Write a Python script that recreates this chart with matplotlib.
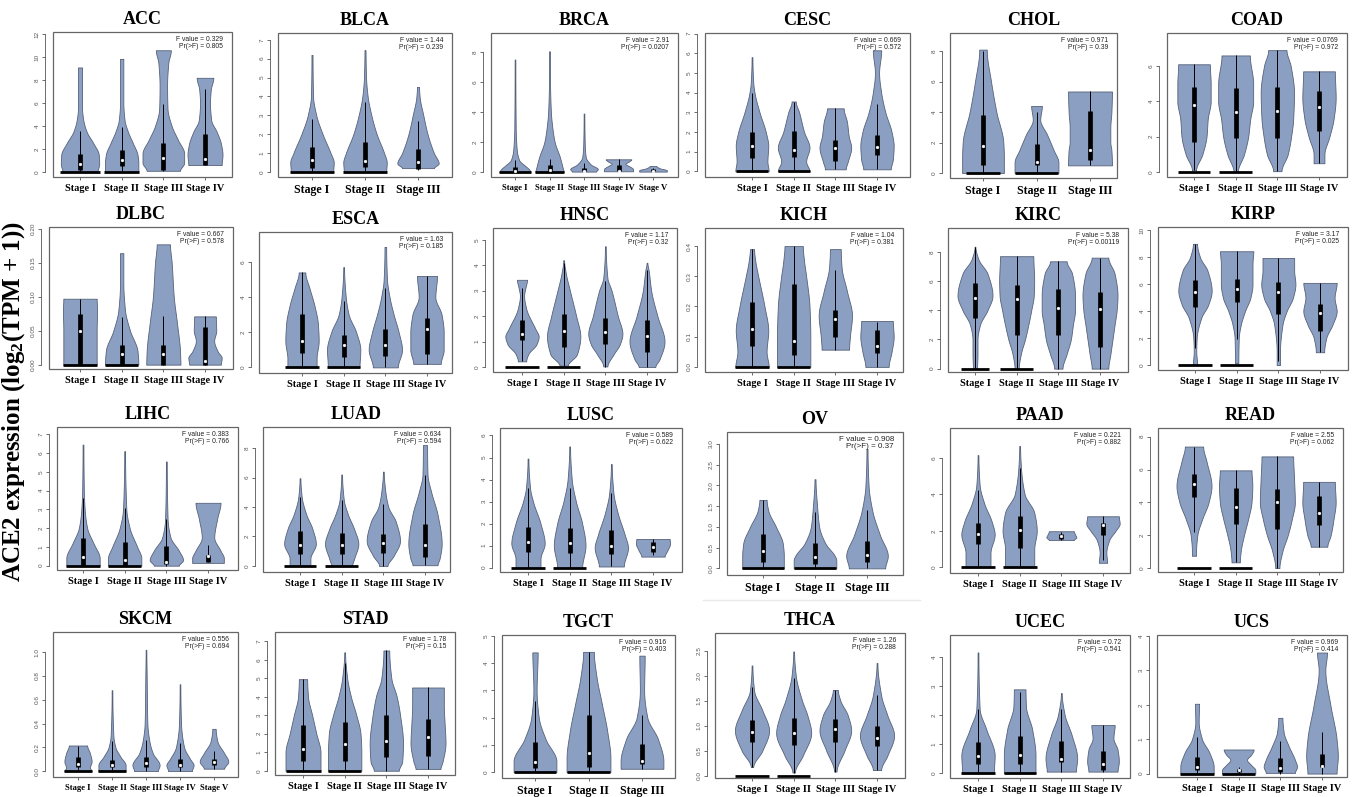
import numpy as np
import matplotlib
matplotlib.use("Agg")
import matplotlib.pyplot as plt
from matplotlib.patches import Rectangle
from matplotlib.lines import Line2D

# ---------------------------------------------------------------- data
STAGES = ["Stage I", "Stage II", "Stage III", "Stage IV", "Stage V"]

CANCERS = ["ACC", "BLCA", "BRCA", "CESC", "CHOL", "COAD",
           "DLBC", "ESCA", "HNSC", "KICH", "KIRC", "KIRP",
           "LIHC", "LUAD", "LUSC", "OV", "PAAD", "READ",
           "SKCM", "STAD", "TGCT", "THCA", "UCEC", "UCS"]

F_VALUES = ["0.329", "1.44", "2.91", "0.669", "0.971", "0.0769",
            "0.667", "1.63", "1.17", "1.04", "5.38", "3.17",
            "0.383", "0.634", "0.589", "0.908", "0.221", "2.55",
            "0.556", "1.78", "0.916", "1.26", "0.72", "0.969"]
P_VALUES = ["0.805", "0.239", "0.0207", "0.572", "0.39", "0.972",
            "0.578", "0.185", "0.32", "0.381", "0.00119", "0.025",
            "0.766", "0.594", "0.622", "0.37", "0.882", "0.062",
            "0.694", "0.15", "0.403", "0.288", "0.541", "0.414"]

# violin outlines: knots [expression, half-width]; boxes: [whisk lo, q1, median, q3, whisk hi]
# zero: half-width of the bar of zero values (0 = none); yt: y tick labels
ACC_SHAPE = [[[0, .42], [.7, .46], [1.5, .45], [2.5, .32], [3.5, .16], [4.5, .08], [5.5, .05], [9.1, .05]],
             [[0, .40], [.8, .40], [1.5, .38], [2.5, .27], [3.5, .15], [4.5, .07], [6, .04], [9.85, .04]],
             [[.1, .40], [.8, .50], [1.6, .50], [2.8, .35], [4, .2], [5.5, .1], [7.5, .09], [9.5, .12], [10.6, .18]],
             [[.6, .40], [1.5, .42], [2.5, .38], [3.5, .28], [4.5, .15], [6, .12], [7.2, .14], [8.2, .2]]]
ACC_BOX = [[0, .2, .7, 1.55, 3.6], [0, .5, 1.0, 1.9, 3.9], [.1, .2, 1.2, 2.5, 5.9], [.6, .6, 1.1, 3.3, 7.2]]
ACC_ZERO = [.48, .42, 0, 0]
ACC_YT = ["0", "2", "4", "6", "8", "10", "12"]

BLCA_SHAPE = [[[0, .40], [.5, .41], [1, .35], [2, .2], [3, .08], [4, .02], [6.2, .01]],
              [[0, .40], [.5, .41], [1, .36], [2, .22], [3, .12], [4, .05], [5, .02], [6.45, .01]],
              [[.2, .30], [.45, .39], [1, .3], [2, .18], [3, .1], [4, .03], [4.5, .02]]]
BLCA_BOX = [[0, .2, .65, 1.3, 2.8], [0, .25, .6, 1.6, 3.7], [.1, .15, .5, 1.2, 2.7]]
BLCA_ZERO = [.41, .41, 0]
BLCA_YT = ["0", "1", "2", "3", "4", "5", "6", "7"]

BRCA_SHAPE = [[[0, .45], [.2, .4], [.4, .3], [.8, .12], [1.5, .05], [3, .02], [7.5, .01]],
              [[0, .41], [.3, .38], [1, .3], [2, .15], [3, .08], [4, .04], [6, .015], [8.05, .01]],
              [[.03, .35], [.2, .4], [.5, .2], [1, .05], [2, .02], [3.9, .01]],
              [[.05, .42], [.2, .42], [.4, .3], [.55, .2], [.7, .3], [.85, .37]],
              [[.03, .4], [.12, .4], [.25, .2], [.4, .1]]]
BRCA_BOX = [[0, 0, .1, .35, .8], [0, 0, .15, .45, .85], [.03, .05, .1, .3, .6],
            [.05, .1, .1, .5, .85], [.03, .05, .1, .2, .3]]
BRCA_ZERO = [.45, .41, 0, 0, 0]
BRCA_YT = ["0", "2", "4", "6", "8"]

CESC_SHAPE = [[[0, .4], [.5, .37], [1.3, .39], [2, .33], [3, .18], [4, .06], [4.5, .03], [5.8, .01]],
              [[0, .38], [.5, .3], [1.2, .38], [2, .25], [3, .13], [3.55, .05]],
              [[.1, .25], [.5, .3], [1.2, .38], [1.8, .32], [2.5, .28], [3.2, .2]],
              [[.1, .33], [.6, .38], [1.3, .4], [2, .35], [3, .2], [4, .1], [5, .05], [6.15, .1]]]
CESC_BOX = [[0, .7, 1.3, 2.0, 4.0], [0, .75, 1.1, 2.05, 3.5], [.1, .5, 1.2, 1.6, 3.2], [.1, .85, 1.25, 1.85, 3.4]]
CESC_ZERO = [.39, .38, 0, 0]
CESC_YT = ["0", "1", "2", "3", "4", "5", "6", "7"]

CHOL_SHAPE = [[[0, .39], [1, .39], [2, .38], [4, .25], [6, .15], [8.1, .07]],
              [[0, .41], [.7, .41], [1.5, .32], [2.5, .2], [3.5, .07], [4.4, .1]],
              [[.5, .41], [1.5, .4], [2, .38], [3, .38], [4, .4], [5.35, .41]]]
CHOL_BOX = [[0, .5, 1.75, 3.8, 8.0], [0, .55, .75, 1.9, 4.0], [.5, .85, 1.5, 4.05, 5.35]]
CHOL_ZERO = [.32, .4, 0]
CHOL_YT = ["0", "2", "4", "6", "8"]

COAD_SHAPE = [[[.1, .05], [1, .2], [2, .3], [3, .33], [4, .4], [5, .4], [6.1, .38]],
              [[0, .05], [1, .2], [2, .3], [3, .35], [4, .42], [5, .42], [6.6, .34]],
              [[.05, .1], [1, .25], [2, .33], [3, .38], [4.5, .4], [6, .32], [6.9, .22]],
              [[.5, .13], [1, .13], [2, .25], [3, .35], [4.2, .4], [5.7, .38]]]
COAD_BOX = [[.1, 1.7, 3.8, 4.8, 6.1], [0, 1.9, 3.4, 4.75, 6.6], [.05, 1.9, 3.45, 4.8, 6.9], [.5, 2.35, 3.7, 4.6, 5.7]]
COAD_ZERO = [.38, .4, 0, 0]
COAD_YT = ["0", "2", "4", "6"]

DLBC_SHAPE = [[[0, .4], [.02, .4], [.05, .4], [.08, .41], [.097, .4]],
              [[0, .4], [.02, .38], [.05, .2], [.08, .08], [.12, .04], [.164, .04]],
              [[0, .41], [.02, .4], [.06, .33], [.1, .25], [.15, .2], [.177, .16]],
              [[0, .38], [.01, .4], [.02, .3], [.035, .22], [.05, .27], [.071, .26]]]
DLBC_BOX = [[0, 0, .049, .074, .097], [0, 0, .015, .029, .07], [0, 0, .015, .029, .071], [0, 0, .006, .056, .071]]
DLBC_ZERO = [.4, .4, 0, 0]
DLBC_YT = ["0.00", "0.05", "0.10", "0.15", "0.20"]

ESCA_SHAPE = [[[0, .35], [.5, .35], [1.5, .4], [2.5, .38], [3.5, .3], [4.5, .18], [5.4, .08]],
              [[0, .38], [1, .4], [2, .3], [3, .12], [4, .05], [5.7, .01]],
              [[0, .3], [1, .4], [2, .32], [3, .2], [4, .1], [5, .04], [6.85, .02]],
              [[.2, .33], [1, .4], [2, .4], [3, .35], [4, .2], [5.2, .24]]]
ESCA_BOX = [[0, .8, 1.5, 3.05, 5.4], [0, .6, 1.25, 1.85, 3.8], [0, .65, 1.25, 2.2, 4.5], [.2, .75, 2.2, 2.8, 5.2]]
ESCA_ZERO = [.4, .4, 0, 0]
ESCA_YT = ["0", "2", "4", "6"]

HNSC_SHAPE = [[[.22, .1], [.5, .15], [.9, .35], [1.2, .4], [1.5, .32], [2.3, .1], [2.8, .05], [3.1, .08], [3.43, .12]],
              [[.05, .1], [.5, .32], [1.2, .4], [2, .3], [3, .15], [3.7, .05], [4.2, .01]],
              [[.02, .05], [.5, .2], [.9, .35], [1.3, .41], [2, .3], [3, .15], [3.5, .05], [4.75, .01]],
              [[0, .2], [.3, .3], [1, .42], [2, .25], [3, .1], [3.8, .04], [4.1, .01]]]
HNSC_BOX = [[.22, 1.05, 1.3, 1.85, 3.1], [0, .8, 1.4, 2.1, 4.1], [0, .9, 1.38, 1.92, 3.4], [0, .6, 1.2, 1.85, 3.8]]
HNSC_ZERO = [.4, .4, 0, 0]
HNSC_YT = ["0", "1", "2", "3", "4", "5"]

KICH_SHAPE = [[[0, .4], [.05, .35], [.12, .39], [.2, .3], [.3, .15], [.35, .08], [.39, .05]],
              [[0, .4], [.1, .4], [.2, .38], [.3, .3], [.35, .25], [.4, .22]],
              [[.057, .33], [.1, .35], [.17, .4], [.25, .28], [.33, .15], [.39, .13]],
              [[0, .28], [.05, .35], [.1, .4], [.152, .38]]]
KICH_BOX = [[0, .07, .125, .215, .39], [0, .04, .085, .275, .4], [.057, .1, .16, .19, .32], [0, .047, .07, .123, .15]]
KICH_ZERO = [.4, .4, 0, 0]
KICH_YT = ["0.0", "0.1", "0.2", "0.3", "0.4"]

KIRC_SHAPE = [[[0, .05], [1, .06], [2, .06], [3, .12], [4, .3], [5, .42], [6.5, .3], [7.5, .08], [8.35, .01]],
              [[0, .05], [1, .1], [2, .2], [3, .28], [4, .35], [5, .41], [6, .42], [7.7, .4]],
              [[0, .1], [1, .2], [2, .3], [3, .35], [4, .4], [5, .4], [6.5, .33], [7.35, .2]],
              [[0, .2], [1, .25], [2, .3], [3, .35], [4, .4], [5, .42], [6.5, .35], [7.6, .2]]]
KIRC_BOX = [[0, 3.5, 4.85, 5.85, 8.3], [0, 2.3, 4.75, 5.75, 7.7], [0, 2.3, 4.15, 5.45, 7.35], [0, 1.45, 4.05, 5.25, 7.6]]
KIRC_ZERO = [.34, .4, 0, 0]
KIRC_YT = ["0", "2", "4", "6", "8"]

KIRP_SHAPE = [[[.05, .05], [1, .03], [2, .04], [3.5, .15], [4.5, .32], [5.5, .4], [7, .3], [8, .12], [9, .05]],
              [[.15, .04], [2, .05], [3, .1], [4, .2], [5, .33], [6, .38], [7.5, .38], [8.45, .4]],
              [[0, .04], [1, .04], [3, .1], [4, .2], [5, .35], [6, .41], [7, .38], [7.95, .38]],
              [[.95, .1], [2, .15], [3, .3], [4, .4], [5, .35], [6.1, .4]]]
KIRP_BOX = [[1.3, 4.3, 5.45, 6.3, 9.0], [1.9, 4.65, 5.65, 6.4, 8.45], [.3, 3.8, 5.45, 6.15, 7.95], [.95, 2.55, 3.9, 4.5, 6.1]]
KIRP_ZERO = [.4, .4, 0, 0]
KIRP_YT = ["0", "2", "4", "6", "8", "10"]

LIHC_SHAPE = [[[0, .4], [.4, .4], [1.2, .25], [2, .1], [3, .04], [4, .02], [6.45, .01]],
              [[0, .4], [.4, .4], [1, .3], [2, .12], [3, .04], [6.1, .01]],
              [[0, .3], [.3, .4], [.8, .3], [1.5, .1], [2.5, .03], [5.55, .01]],
              [[.15, .38], [.4, .38], [.8, .3], [1.5, .15], [2.5, .22], [3.35, .3]]]
LIHC_BOX = [[0, 0, .45, 1.5, 3.6], [0, 0, .3, 1.25, 3.05], [0, .1, .22, 1.05, 2.5], [.2, .2, .5, .55, 1.1]]
LIHC_ZERO = [.4, .4, 0, 0]
LIHC_YT = ["0", "1", "2", "3", "4", "5", "6", "7"]

LUAD_SHAPE = [[[0, .25], [.5, .25], [1.5, .38], [2.5, .3], [3.5, .15], [4.7, .04], [5.95, .01]],
              [[0, .25], [.5, .3], [1.5, .4], [2.5, .3], [3.5, .15], [4.5, .05], [6.2, .01]],
              [[0, .1], [.7, .25], [1.7, .4], [3, .3], [4, .12], [5, .05], [6.4, .01]],
              [[.05, .3], [.5, .35], [1.5, .4], [3.5, .3], [5, .15], [6.2, .06], [8.2, .05]]]
LUAD_BOX = [[0, .8, 1.4, 2.35, 4.7], [0, .8, 1.45, 2.25, 4.5], [0, .9, 1.55, 2.2, 4.2], [.05, .6, 1.45, 2.85, 6.2]]
LUAD_ZERO = [.38, .4, 0, 0]
LUAD_YT = ["0", "2", "4", "6", "8"]

LUSC_SHAPE = [[[0, .3], [.4, .3], [1.1, .4], [2, .3], [3, .12], [3.6, .05], [4.95, .01]],
              [[0, .3], [1, .38], [2, .3], [3, .15], [4, .05], [5.5, .01]],
              [[.05, .3], [.9, .4], [1.5, .32], [2.5, .15], [3.4, .05], [4.7, .01]],
              [[.5, .28], [.8, .35], [1.1, .41], [1.3, .4]]]
LUSC_BOX = [[0, .7, 1.15, 1.85, 3.6], [0, .65, 1.1, 1.8, 3.6], [.05, .6, 1.0, 1.7, 3.4], [.55, .7, .95, 1.15, 1.3]]
LUSC_ZERO = [.4, .4, 0, 0]
LUSC_YT = ["0", "1", "2", "3", "4", "5", "6"]

OV_SHAPE = [[[0, .4], [.3, .4], [.6, .38], [1.0, .25], [1.4, .1], [1.65, .07]],
            [[0, .41], [.2, .41], [.3, .38], [.6, .2], [1.0, .08], [1.5, .04], [2.15, .01]],
            [[0, .35], [.3, .4], [.8, .25], [1.4, .1], [2, .03], [2.88, .01]]]
OV_BOX = [[0, .15, .42, .82, 1.65], [0, .1, .27, .62, 1.35], [0, .15, .32, .65, 1.4]]
OV_ZERO = [.4, .41, 0]
OV_YT = ["0.0", "0.5", "1.0", "1.5", "2.0", "2.5", "3.0"]

PAAD_SHAPE = [[[0, .3], [.8, .3], [1.8, .4], [2.5, .33], [3.5, .15], [4.5, .04], [6.15, .01]],
              [[0, .35], [1, .35], [2, .41], [3, .35], [4, .12], [5.5, .03], [6.65, .01]],
              [[1.5, .3], [1.65, .36], [1.8, .33], [1.98, .3]],
              [[.25, .1], [.8, .08], [1.5, .15], [2, .3], [2.4, .4], [2.8, .38]]]
PAAD_BOX = [[0, 1.3, 1.85, 2.45, 4.25], [0, 1.05, 2.05, 2.8, 5.45], [1.5, 1.55, 1.7, 1.85, 1.95], [.4, 1.75, 2.3, 2.45, 2.8]]
PAAD_ZERO = [.4, .41, 0, 0]
PAAD_YT = ["0", "2", "4", "6"]

READ_SHAPE = [[[.75, .05], [1, .05], [2, .08], [3, .2], [4, .35], [5, .42], [6.5, .3], [7.4, .22]],
              [[.35, .1], [1, .12], [2, .2], [3, .3], [4, .38], [5, .4], [5.95, .38]],
              [[0, .05], [1, .12], [2, .25], [3, .35], [4, .42], [5.5, .4], [6.8, .38]],
              [[1.3, .2], [2, .28], [3, .35], [4, .4], [5.25, .38]]]
READ_BOX = [[2.2, 4.35, 5.1, 5.7, 7.4], [.35, 2.7, 3.7, 4.9, 5.95], [0, 2.4, 4.05, 4.8, 6.8], [1.3, 2.65, 3.35, 4.4, 5.25]]
READ_ZERO = [.4, .4, 0, 0]
READ_YT = ["0", "2", "4", "6", "8"]

SKCM_SHAPE = [[[0, .4], [.03, .35], [.08, .4], [.15, .35], [.215, .27]],
              [[0, .4], [.05, .4], [.12, .25], [.2, .1], [.3, .04], [.68, .01]],
              [[0, .35], [.05, .4], [.15, .2], [.25, .1], [.4, .04], [.8, .02], [1.02, .01]],
              [[0, .35], [.05, .4], [.1, .3], [.2, .12], [.4, .03], [.73, .01]],
              [[.02, .3], [.08, .42], [.15, .3], [.25, .1], [.355, .05]]]
SKCM_BOX = [[0, .03, .06, .115, .215], [0, .03, .055, .09, .25], [0, .03, .065, .12, .26],
            [0, .03, .055, .1, .24], [.02, .05, .075, .1, .17]]
SKCM_ZERO = [.4, .4, 0, 0, 0]
SKCM_YT = ["0.0", "0.2", "0.4", "0.6", "0.8", "1.0"]

STAD_SHAPE = [[[0, .42], [1, .42], [2, .32], [3, .22], [4, .12], [4.95, .1]],
              [[0, .4], [1, .4], [2, .38], [3, .28], [4, .15], [5, .06], [6.4, .01]],
              [[0, .3], [.5, .38], [1.5, .4], [3, .33], [4, .25], [5, .12], [6.5, .07]],
              [[.1, .3], [.5, .35], [1.5, .42], [2.5, .4], [3.5, .38], [4.5, .38]]]
STAD_BOX = [[0, .55, 1.15, 2.45, 4.95], [0, .5, 1.45, 2.65, 5.85], [0, .75, 1.6, 3.0, 6.5], [.1, .8, 1.85, 2.8, 4.5]]
STAD_ZERO = [.42, .4, 0, 0]
STAD_YT = ["0", "1", "2", "3", "4", "5", "6", "7"]

TGCT_SHAPE = [[[0, .4], [.4, .4], [1.2, .2], [2, .07], [3, .03], [4.4, .05]],
              [[0, .41], [.5, .41], [1.5, .35], [2.5, .25], [3.5, .15], [4.42, .1]],
              [[.12, .4], [.4, .4], [1.2, .3], [2, .1], [3, .04], [4.28, .05]]]
TGCT_BOX = [[0, .15, .38, 1.1, 2.6], [0, .2, .7, 2.08, 4.42], [.12, .3, .4, 1.02, 2.1]]
TGCT_ZERO = [.4, .41, 0]
TGCT_YT = ["0", "1", "2", "3", "4", "5"]

THCA_SHAPE = [[[.17, .03], [.5, .25], [.9, .41], [1.3, .25], [1.7, .05], [2.2, .01]],
              [[.06, .03], [.4, .22], [.85, .42], [1.2, .33], [1.5, .2], [2, .05], [2.48, .01]],
              [[.08, .03], [.5, .22], [.9, .38], [1.2, .3], [1.5, .12], [1.71, .06]],
              [[.11, .1], [.4, .25], [.8, .41], [1.2, .25], [1.6, .1], [2.25, .01]]]
THCA_BOX = [[.18, .67, .87, 1.12, 1.78], [.06, .62, .86, 1.16, 1.95], [.08, .67, .93, 1.14, 1.71], [.11, .6, .75, 1.0, 1.62]]
THCA_ZERO = [.4, .4, 0, 0]
THCA_YT = ["0.0", "0.5", "1.0", "1.5", "2.0", "2.5"]

UCEC_SHAPE = [[[0, .38], [.6, .4], [1.5, .2], [2.2, .04], [4.15, .01]],
              [[0, .38], [.6, .38], [1.5, .3], [2.3, .15], [2.88, .14]],
              [[.05, .35], [.5, .38], [1.3, .25], [2, .08], [2.75, .01]],
              [[.05, .35], [.4, .38], [.8, .35], [1.2, .25], [1.65, .28]]]
UCEC_BOX = [[0, .3, .6, 1.07, 2.2], [0, .3, .62, 1.27, 2.8], [.05, .38, .47, 1.1, 2.2], [.05, .1, .32, .75, 1.65]]
UCEC_ZERO = [.4, .38, 0, 0]
UCEC_YT = ["0", "1", "2", "3", "4"]

UCS_SHAPE = [[[0, .4], [.2, .4], [.6, .3], [1, .12], [1.5, .04], [2.03, .05]],
             [[0, .4], [.1, .4], [.25, .3], [.4, .2], [.55, .3], [.7, .36]],
             [[.02, .35], [.2, .4], [.4, .35], [.8, .2], [1.2, .08], [1.62, .05]],
             [[0, .35], [.5, .38], [1, .35], [2, .2], [3, .08], [3.52, .12]]]
UCS_BOX = [[0, .1, .2, .48, 1.05], [0, .05, .1, .12, .2], [0, .05, .15, .45, .95], [0, .18, .22, .58, 1.2]]
UCS_ZERO = [.4, .4, 0, 0]
UCS_YT = ["0", "1", "2", "3", "4"]

PANEL_DATA = [
    (ACC_SHAPE, ACC_BOX, ACC_ZERO, ACC_YT), (BLCA_SHAPE, BLCA_BOX, BLCA_ZERO, BLCA_YT),
    (BRCA_SHAPE, BRCA_BOX, BRCA_ZERO, BRCA_YT), (CESC_SHAPE, CESC_BOX, CESC_ZERO, CESC_YT),
    (CHOL_SHAPE, CHOL_BOX, CHOL_ZERO, CHOL_YT), (COAD_SHAPE, COAD_BOX, COAD_ZERO, COAD_YT),
    (DLBC_SHAPE, DLBC_BOX, DLBC_ZERO, DLBC_YT), (ESCA_SHAPE, ESCA_BOX, ESCA_ZERO, ESCA_YT),
    (HNSC_SHAPE, HNSC_BOX, HNSC_ZERO, HNSC_YT), (KICH_SHAPE, KICH_BOX, KICH_ZERO, KICH_YT),
    (KIRC_SHAPE, KIRC_BOX, KIRC_ZERO, KIRC_YT), (KIRP_SHAPE, KIRP_BOX, KIRP_ZERO, KIRP_YT),
    (LIHC_SHAPE, LIHC_BOX, LIHC_ZERO, LIHC_YT), (LUAD_SHAPE, LUAD_BOX, LUAD_ZERO, LUAD_YT),
    (LUSC_SHAPE, LUSC_BOX, LUSC_ZERO, LUSC_YT), (OV_SHAPE, OV_BOX, OV_ZERO, OV_YT),
    (PAAD_SHAPE, PAAD_BOX, PAAD_ZERO, PAAD_YT), (READ_SHAPE, READ_BOX, READ_ZERO, READ_YT),
    (SKCM_SHAPE, SKCM_BOX, SKCM_ZERO, SKCM_YT), (STAD_SHAPE, STAD_BOX, STAD_ZERO, STAD_YT),
    (TGCT_SHAPE, TGCT_BOX, TGCT_ZERO, TGCT_YT), (THCA_SHAPE, THCA_BOX, THCA_ZERO, THCA_YT),
    (UCEC_SHAPE, UCEC_BOX, UCEC_ZERO, UCEC_YT), (UCS_SHAPE, UCS_BOX, UCS_ZERO, UCS_YT),
]

# ---------------------------------------------------------------- layout (pixels)
# box left, top, right, bottom, first violin centre, last violin centre, ylim lo, ylim hi
LAYOUT = [
    (53, 32, 232, 177, 80, 205, -0.44, 12.19), (278, 33, 452, 177, 312, 418, -0.27, 7.36),
    (491, 33, 678, 177, 515, 653, -0.33, 9.27), (705, 33, 910, 177, 752, 877, -0.29, 7.03),
    (950, 33, 1117, 178, 983, 1090, -0.33, 9.19), (1167, 33, 1347, 177, 1194, 1319, -0.28, 7.87),
    (49, 227, 233, 369, 80, 205, -0.0064, 0.2025), (259, 232, 452, 373, 302, 427, -0.32, 7.7),
    (493, 228, 677, 372, 522, 647, -0.2, 5.47), (705, 228, 903, 372, 752, 877, -0.017, 0.46),
    (948, 228, 1128, 372, 975, 1100, -0.23, 9.63), (1158, 227, 1348, 370, 1195, 1320, -0.37, 10.25),
    (57, 427, 238, 570, 83, 208, -0.23, 7.39), (263, 427, 450, 572, 300, 425, -0.41, 9.43),
    (500, 428, 682, 572, 528, 653, -0.2, 6.34), (727, 432, 903, 575, 763, 867, -0.16, 3.29),
    (950, 428, 1130, 573, 978, 1103, -0.31, 7.64), (1158, 428, 1343, 572, 1194, 1319, -0.24, 8.53),
    (53, 632, 238, 777, 78, 214, -0.05, 1.17), (275, 632, 455, 775, 303, 428, -0.23, 7.5),
    (502, 635, 675, 778, 535, 642, -0.22, 5.04), (715, 633, 905, 778, 752, 877, -0.05, 2.85),
    (950, 635, 1130, 778, 978, 1103, -0.17, 4.75), (1157, 635, 1347, 777, 1197, 1322, -0.1, 4.03),
]

W, H = 1357, 797
VIOLIN_FC = "#8b9fc2"
VIOLIN_EC = "#56627a"
SERIF = ["Liberation Serif", "DejaVu Serif"]
SANS = ["Liberation Sans", "DejaVu Sans"]

plt.rcParams["mathtext.fontset"] = "custom"
plt.rcParams["mathtext.rm"] = "Liberation Serif:bold"
plt.rcParams["mathtext.it"] = "Liberation Serif:bold"
plt.rcParams["mathtext.bf"] = "Liberation Serif:bold"


def pchip(xk, yk, xs):
    xk = np.asarray(xk, float)
    yk = np.asarray(yk, float)
    n = len(xk)
    h = np.diff(xk)
    d = np.diff(yk) / h
    m = np.zeros(n)
    if n == 2:
        m[:] = d[0]
    else:
        for k in range(1, n - 1):
            if d[k - 1] * d[k] <= 0:
                m[k] = 0.0
            else:
                w1 = 2 * h[k] + h[k - 1]
                w2 = h[k] + 2 * h[k - 1]
                m[k] = (w1 + w2) / (w1 / d[k - 1] + w2 / d[k])
    idx = np.clip(np.searchsorted(xk, xs) - 1, 0, n - 2)
    t = (xs - xk[idx]) / h[idx]
    h00 = 2 * t ** 3 - 3 * t ** 2 + 1
    h10 = t ** 3 - 2 * t ** 2 + t
    h01 = -2 * t ** 3 + 3 * t ** 2
    h11 = t ** 3 - t ** 2
    return h00 * yk[idx] + h10 * h[idx] * m[idx] + h01 * yk[idx + 1] + h11 * h[idx] * m[idx + 1]


fig = plt.figure(figsize=(W / 100, H / 100), dpi=100)

for name, fval, pval, (shapes, boxes, zeros, yts), lay in zip(CANCERS, F_VALUES, P_VALUES, PANEL_DATA, LAYOUT):
    l, t, r, b, c1, cn, ylo, yhi = lay
    n = len(shapes)
    ax = fig.add_axes([l / W, 1 - b / H, (r - l) / W, (b - t) / H])
    sp = (cn - c1) / (n - 1)
    ax.set_xlim(1 - (c1 - l) / sp, n + (r - cn) / sp)
    ax.set_ylim(ylo, yhi)

    for i, (knots, bx, zw) in enumerate(zip(shapes, boxes, zeros)):
        pos = i + 1
        ky = [k[0] for k in knots]
        kw = [k[1] for k in knots]
        yy = np.linspace(ky[0], ky[-1], 300)
        ww = np.clip(pchip(ky, kw, yy), 0.006, None)
        ax.fill_betweenx(yy, pos - ww, pos + ww, facecolor=VIOLIN_FC,
                         edgecolor=VIOLIN_EC, linewidth=0.6, zorder=2)
        wlo, q1, med, q3, whi = bx
        ax.plot([pos, pos], [wlo, whi], color="black", lw=0.7, solid_capstyle="butt", zorder=3)
        ax.plot([pos, pos], [q1, q3], color="black", lw=3.4, solid_capstyle="butt", zorder=4)
        ax.plot([pos], [med], marker="o", ms=2.0, mfc="white", mec="white", mew=0.3, zorder=5)
        if zw > 0:
            ax.plot([pos - zw, pos + zw], [0, 0], color="black", lw=2.0,
                    solid_capstyle="butt", zorder=4)

    # frame
    ax.add_patch(Rectangle((0, 0), 1, 1, transform=ax.transAxes, fill=False,
                           edgecolor="#666666", lw=0.9, clip_on=False, zorder=6))
    for s in ["top", "right", "bottom"]:
        ax.spines[s].set_visible(False)
    yvals = [float(v) for v in yts]
    ax.spines["left"].set_position(("outward", 6))
    ax.spines["left"].set_bounds(yvals[0], yvals[-1])
    ax.spines["left"].set_color("#555555")
    ax.spines["left"].set_linewidth(0.6)
    ax.set_yticks(yvals)
    ax.set_yticklabels(yts, rotation=90, va="center", fontsize=4.6,
                       color="#555555", family=SANS)
    ax.tick_params(axis="y", length=2.5, width=0.6, pad=1.2, colors="#555555")

    xfs = 6.2 if n == 5 else (8.6 if n == 3 else 7.4)
    ax.set_xticks(range(1, n + 1))
    ax.set_xticklabels(STAGES[:n], fontsize=xfs, fontweight="bold", family=SERIF, color="black")
    ax.tick_params(axis="x", length=2.5, width=0.6, pad=2.5, color="#555555")

    ax.set_title(name, fontsize=13, fontweight="bold", family=SERIF, pad=6)

    tfs = 5.8 if name == "OV" else 4.9
    ax.text(1 - 9 / (r - l), 1 - 4 / (b - t), f"F value = {fval}\nPr(>F) = {pval}",
            transform=ax.transAxes, ha="right", va="top", fontsize=tfs,
            family=SANS, color="#222222", linespacing=1.05, zorder=7)

fig.text(14 / W, 1 - 402 / H, "ACE2 expression (log$_2$(TPM + 1))", rotation=90,
         ha="center", va="center", fontsize=18, fontweight="bold", family=SERIF)

fig.add_artist(Line2D([703 / W, 920 / W], [1 - 600 / H, 1 - 600 / H], color="#e8e8e8", lw=1.0))

fig.savefig("out.png", dpi=100)
